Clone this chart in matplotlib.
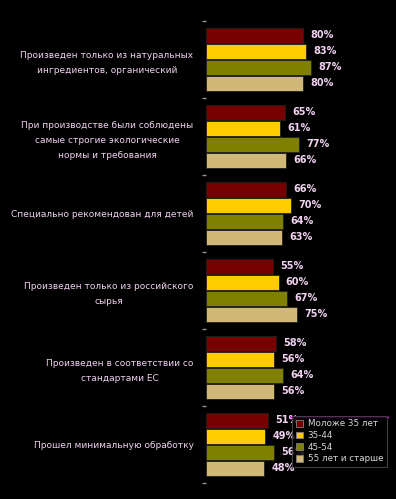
import matplotlib
matplotlib.use("Agg")
import matplotlib.pyplot as plt
from matplotlib.patches import Patch
from matplotlib.lines import Line2D
import numpy as np

# Data
categories = [
    "Произведен только из натуральных\nингредиентов, органический",
    "При производстве были соблюдены\nсамые строгие экологические\nнормы и требования",
    "Специально рекомендован для детей",
    "Произведен только из российского\nсырья",
    "Произведен в соответствии со\nстандартами ЕС",
    "Прошел минимальную обработку",
]
series_names = ["Моложе 35 лет", "35-44", "45-54", "55 лет и старше"]
under_35 = [80, 65, 66, 55, 58, 51]
age_35_44 = [83, 61, 70, 60, 56, 49]
age_45_54 = [87, 77, 64, 67, 64, 56]
over_55 = [80, 66, 63, 75, 56, 48]
series = [under_35, age_35_44, age_45_54, over_55]

colors = ["#760000", "#ffcc00", "#7f7f00", "#d0b878"]
text_color = "#f0d2f0"

W, H = 396, 499
fig = plt.figure(figsize=(W / 100, H / 100), dpi=100, facecolor="black")
ax = fig.add_axes([206 / W, 1 - 483 / H, (W - 206) / W, (483 - 21) / H])
ax.set_facecolor("black")

n = len(categories)
pitch = 16 / 77
offsets = (np.arange(len(series)) - 1.5) * pitch
y = np.arange(n)

for vals, off, col in zip(series, offsets, colors):
    bars = ax.barh(y + off, vals, height=pitch * 0.94, color=col,
                   edgecolor="#202020", linewidth=0.6)
    for b, v in zip(bars, vals):
        ax.text(b.get_width() + 6, b.get_y() + b.get_height() / 2, f"{v}%",
                va="center", ha="left", fontsize=7, color=text_color,
                fontweight="bold")

ax.set_xlim(0, (W - 206) / 1.21)
ax.set_ylim(n - 0.5, -0.5)
ax.set_xticks([])
ax.set_yticks(y)
ax.set_yticklabels(categories, fontsize=6.5, color=text_color,
                   multialignment="center", linespacing=1.85)
ax.tick_params(axis="y", which="major", length=0, pad=9)
ax.set_yticks(np.arange(n + 1) - 0.5, minor=True)
ax.tick_params(axis="y", which="minor", length=3, color="#909090", width=1)
for s in ax.spines.values():
    s.set_visible(False)

handles = [Patch(facecolor=c, edgecolor="#808080", linewidth=0.6) for c in colors]
leg = fig.legend(handles, series_names, loc="upper left",
                 bbox_to_anchor=(292 / W, 1 - 416 / H), fontsize=6.3,
                 frameon=True, facecolor="black", edgecolor="#505050",
                 labelcolor="#d8d8d8", handlelength=0.8, handleheight=0.8,
                 handletextpad=0.6, labelspacing=0.3, borderpad=0.4,
                 fancybox=False, borderaxespad=0)
leg.get_frame().set_linewidth(0.8)
fig.add_artist(Line2D([290 / W, 388 / W], [1 - 417 / H, 1 - 417 / H],
                      color="#ff00ff", linewidth=1))

fig.savefig("out.png", dpi=100, facecolor="black")
